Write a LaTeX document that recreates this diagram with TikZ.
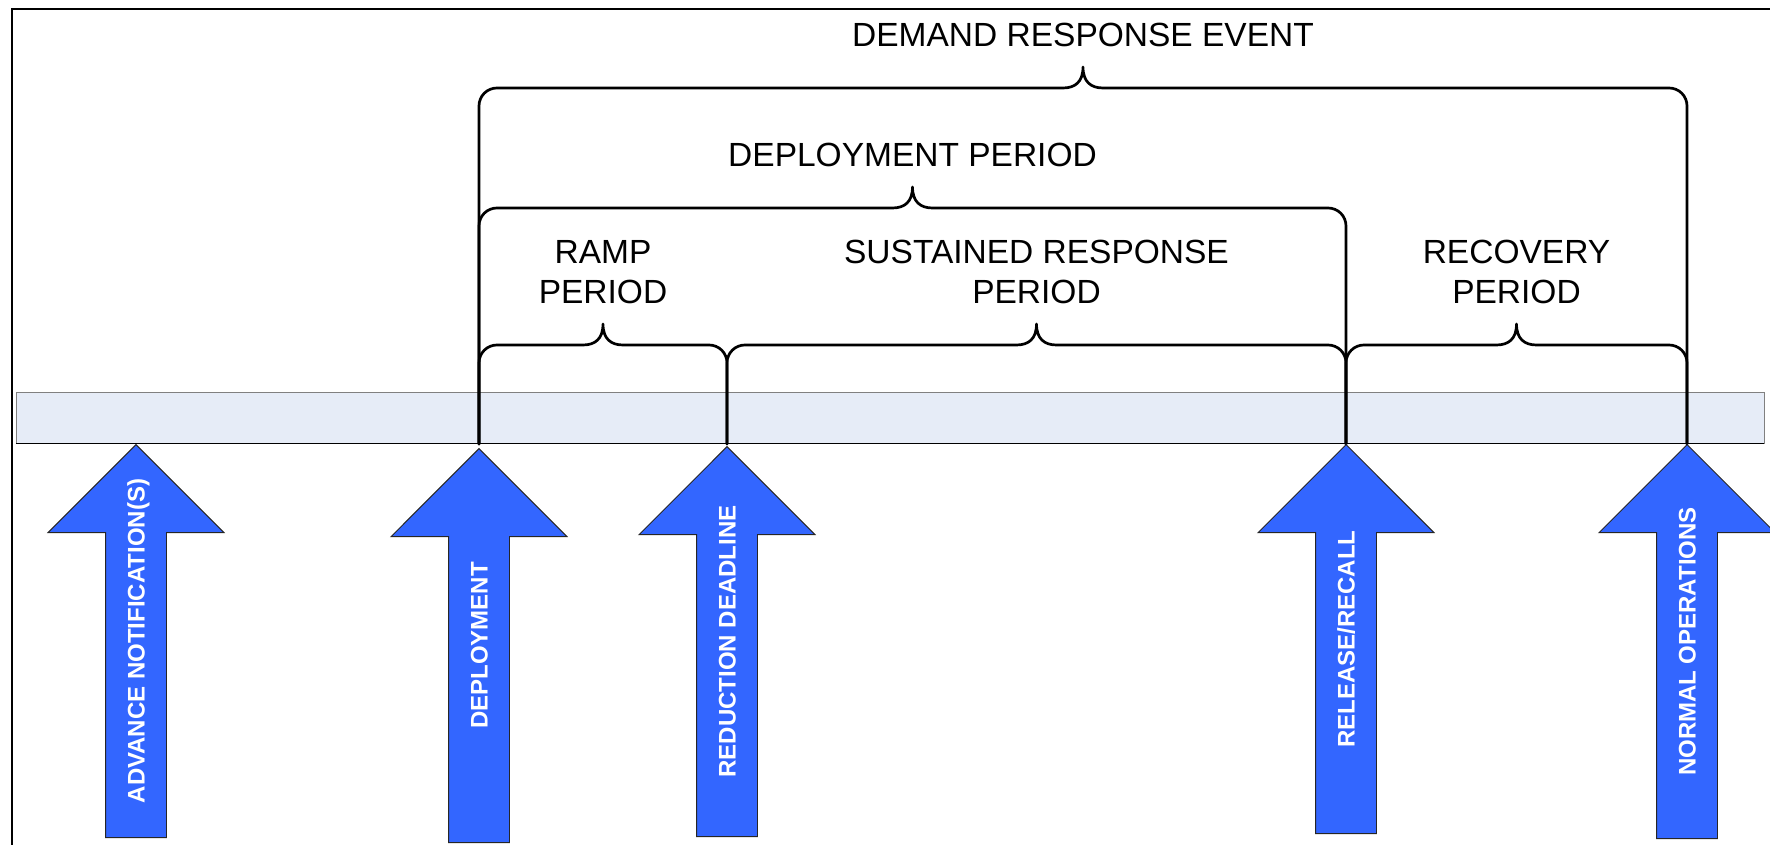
\documentclass[tikz,border=0pt]{standalone}
\usepackage{fontspec}
\setmainfont{Liberation Sans}
\usepackage{xcolor}
\usepackage{tikz}
\usetikzlibrary{calc,shapes.arrows}
\definecolor{evblue}{HTML}{3366FF}
\definecolor{barblue}{HTML}{E6ECF7}
\tikzset{
  spanline/.style={line width=2.7pt,line join=round,line cap=round},
  spanlabel/.style={font=\fontsize{33.5}{40}\selectfont,align=center,inner sep=0pt,anchor=south},
  evarrow/.style={shape=single arrow,rotate=90,anchor=tip,fill=evblue,draw=black!85,line width=0.9pt,
    single arrow head extend=57.5pt,inner xsep=0pt,inner ysep=21.5pt,text height=17pt,text depth=0pt},
  evtext/.style={rotate=90,inner sep=0pt,text height=17pt,text depth=0pt,
    font=\fontsize{24}{28}\selectfont\bfseries,text=white},
}
\newcommand{\spanbrace}[5]{%
  \draw[spanline] let \p1=(#1), \p2=(#2), \n1={(\x1+\x2)/2} in
    (\p1) -- (\x1,#3-18) .. controls (\x1,#3-8) and (\x1+8,#3) .. (\x1+18,#3)
    -- (\n1-20,#3) .. controls (\n1-8,#3) and (\n1,#3+6) .. (\n1,#3+21)
    .. controls (\n1,#3+6) and (\n1+8,#3) .. (\n1+20,#3)
    -- (\x2-18,#3) .. controls (\x2-8,#3) and (\x2,#3-8) .. (\x2,#3-18) -- (\p2)
    (\n1,#3+40) node[spanlabel] (#4) {#5};}
\begin{document}
\begin{tikzpicture}[x=1pt,y=1pt]
        \useasboundingbox (0,0) rectangle (1770,845);
        \draw[line width=2pt] (12,0) -- (12,836) -- (1770,836);
        \draw[fill=barblue,draw=black!50,line width=1pt] (16,401) rectangle (1764,452);
        \draw[line width=1pt] (16,401) -- (1764,401);
        \coordinate (adv) at (136,401);
        \coordinate (dep) at (479,401);
        \coordinate (red) at (727,401);
        \coordinate (rel) at (1346,401);
        \coordinate (norm) at (1687,401);
        \spanbrace{dep}{norm}{757}{dre}{DEMAND RESPONSE EVENT}
        \spanbrace{dep}{rel}{637}{depp}{DEPLOYMENT PERIOD}
        \spanbrace{dep}{red}{500}{ramp}{RAMP\\PERIOD}
        \spanbrace{red}{rel}{500}{sust}{SUSTAINED RESPONSE\\PERIOD}
        \spanbrace{rel}{norm}{500}{recov}{RECOVERY\\PERIOD}
        \node[evarrow,minimum height=393pt] (advA) at (adv) {};
        \node[evarrow,minimum height=394pt] (depA) at ([yshift=-4pt]dep) {};
        \node[evarrow,minimum height=390pt] (redA) at ([yshift=-2pt]red) {};
        \node[evarrow,minimum height=389pt] (relA) at (rel) {};
        \node[evarrow,minimum height=394pt] (normA) at (norm) {};
        \node[evtext] (advT) at ($(advA.tip)!0.5!(advA.tail)$) {ADVANCE NOTIFICATION(S)};
        \node[evtext] (depT) at ($(depA.tip)!0.5!(depA.tail)$) {DEPLOYMENT};
        \node[evtext] (redT) at ($(redA.tip)!0.5!(redA.tail)$) {REDUCTION DEADLINE};
        \node[evtext] (relT) at ($(relA.tip)!0.5!(relA.tail)$) {RELEASE/RECALL};
        \node[evtext] (normT) at ($(normA.tip)!0.5!(normA.tail)$) {NORMAL OPERATIONS};
\end{tikzpicture}
\end{document}
